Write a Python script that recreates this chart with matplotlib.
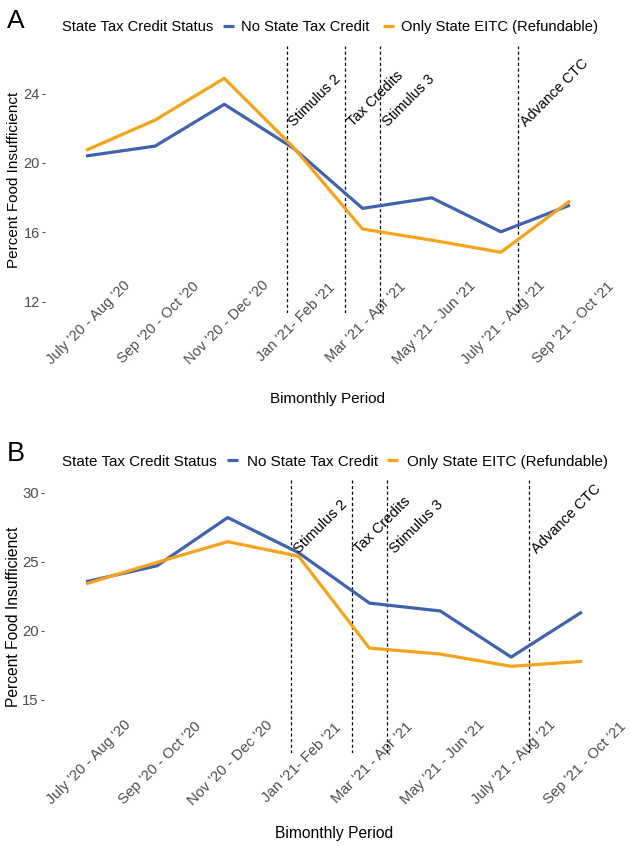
import matplotlib
matplotlib.use("Agg")
import matplotlib.pyplot as plt
import matplotlib.transforms as mtransforms

plt.rcParams['font.family'] = ['Liberation Sans', 'DejaVu Sans']

# ---------------- data ----------------
periods = ["July '20 - Aug '20", "Sep '20 - Oct '20", "Nov '20 - Dec '20",
           "Jan '21- Feb '21", "Mar '21 - Apr '21", "May '21 - Jun '21",
           "July '21 - Aug '21", "Sep '21 - Oct '21"]

series_names = ["No State Tax Credit", "Only State EITC (Refundable)"]

a_no_credit = [20.40, 20.97, 23.38, 20.85, 17.38, 17.99, 16.03, 17.57]
a_eitc = [20.73, 22.47, 24.88, 20.90, 16.19, 15.55, 14.85, 17.82]

b_no_credit = [23.55, 24.70, 28.20, 25.65, 22.00, 21.43, 18.09, 21.36]
b_eitc = [23.40, 24.95, 26.45, 25.40, 18.74, 18.31, 17.42, 17.78]

events = ["Stimulus 2", "Tax Credits", "Stimulus 3", "Advance CTC"]
event_x = [2.9, 3.75, 4.25, 6.25]

a_yticks = [12, 16, 20, 24]
b_yticks = [15, 20, 25, 30]

colors = ["#3F63AD", "#F7A21B"]

W, H = 630, 846
fig = plt.figure(figsize=(W / 100, H / 100), dpi=100)


def px_rect(left, top, right, bottom):
    return [left / W, 1 - bottom / H, (right - left) / W, (bottom - top) / H]


def make_panel(rect, no_vals, eitc_vals, yticks, ylim, text_y, letter,
               letter_y, legend_anchor, title_y, xtitle_y, s, hl, htp, csp):
    ax = fig.add_axes(px_rect(*rect))
    x = list(range(len(periods)))
    l1, = ax.plot(x, no_vals, color=colors[0], lw=2.3, solid_capstyle='butt',
                  label=series_names[0], zorder=3)
    l2, = ax.plot(x, eitc_vals, color=colors[1], lw=2.3, solid_capstyle='butt',
                  label=series_names[1], zorder=3)
    for ex, ev in zip(event_x, events):
        ax.axvline(ex, color='black', lw=0.9, ls=(0, (2.5, 2.0)), zorder=2)
        ax.text(ex, text_y, ev, rotation=45, rotation_mode='anchor',
                ha='left', va='top', fontsize=10.3 * s, color='black',
                zorder=4)
    ax.set_xlim(-0.6, len(periods) - 1 + 0.6)
    ax.set_ylim(*ylim)
    ax.set_yticks(yticks)
    ax.set_yticklabels([str(v) for v in yticks])
    ax.set_xticks(x)
    ax.set_xticklabels(periods)
    for sp in ax.spines.values():
        sp.set_visible(False)
    ax.tick_params(axis='y', length=2.5, width=0.8, color='#4D4D4D',
                   labelcolor='#4D4D4D', labelsize=10.5 * s, pad=1)
    ax.tick_params(axis='x', length=0, labelcolor='#4D4D4D',
                   labelsize=10.5 * s, pad=7)
    off = mtransforms.ScaledTranslation(3 / 100, 0, fig.dpi_scale_trans)
    for lab in ax.get_xticklabels():
        lab.set_rotation(45)
        lab.set_ha('center')
        lab.set_va('center')
        lab.set_transform(lab.get_transform() + off)
    # axis titles
    cx = (rect[0] + rect[2]) / 2
    fig.text(cx / W, 1 - xtitle_y / H, "Bimonthly Period",
             ha='center', va='center', fontsize=11 * s)
    cy = (rect[1] + rect[3]) / 2
    fig.text(14 / W, 1 - cy / H, "Percent Food Insufficienct", rotation=90,
             ha='center', va='center', fontsize=11 * s)
    # panel letter
    fig.text(7 / W, 1 - letter_y / H, letter, ha='left', va='baseline',
             fontsize=19 * s)
    # legend
    fig.text(62 / W, 1 - title_y / H, "State Tax Credit Status",
             ha='left', va='center', fontsize=10.6 * s)
    fig.legend(handles=[l1, l2], labels=series_names, ncol=2,
               loc='center left',
               bbox_to_anchor=(legend_anchor[0] / W, 1 - legend_anchor[1] / H),
               frameon=False, handlelength=hl, handletextpad=htp,
               columnspacing=csp, borderpad=0, borderaxespad=0,
               fontsize=10.6 * s)
    return ax


make_panel((44.5, 46, 611.5, 313), a_no_credit, a_eitc, a_yticks,
           (11.35, 26.74), 22.5, "A", 28, (223, 27), 27, 399, 1.0,
           0.72, 0.5, 0.95)
make_panel((43.5, 480, 624.5, 753), b_no_credit, b_eitc, b_yticks,
           (11.14, 30.92), 26.1, "B", 461, (227, 461.5), 461.5, 833, 1.025,
           0.7, 0.6, 0.62)

fig.savefig("out.png", dpi=100, facecolor='white')
